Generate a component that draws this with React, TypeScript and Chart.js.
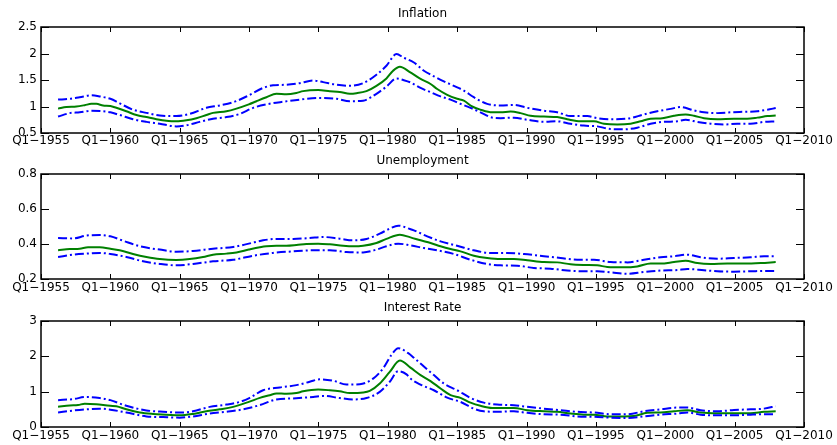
import React, { useEffect, useRef } from "react";
import { Chart, registerables } from "chart.js";

Chart.register(...registerables);

type Pt = [number, number];

// ---------- data ----------
const xTickYears = [1955, 1960, 1965, 1970, 1975, 1980, 1985, 1990, 1995, 2000, 2005, 2010];
const inflationTicks = [0.5, 1, 1.5, 2, 2.5];
const unemploymentTicks = [0.2, 0.4, 0.6, 0.8];
const interestTicks = [0, 1, 2, 3];
const panelTitles = ["Inflation", "Unemployment", "Interest Rate"];

const inflationMedian: Pt[] = [[1956.23,0.96],[1956.83,0.99],[1957.55,1.00],[1958.15,1.025],[1958.63,1.05],[1958.99,1.05],[1959.47,1.02],[1960,1.01],[1960.43,0.975],[1961.15,0.91],[1961.88,0.84],[1962.6,0.80],[1963.32,0.76],[1964.04,0.73],[1964.76,0.72],[1965.48,0.74],[1966.2,0.78],[1966.92,0.84],[1967.4,0.88],[1968.37,0.91],[1969.09,0.96],[1969.98,1.04],[1970.53,1.10],[1971.25,1.175],[1971.97,1.24],[1972.69,1.23],[1973.41,1.255],[1973.89,1.29],[1974.98,1.31],[1975.82,1.29],[1976.54,1.275],[1977.26,1.24],[1977.74,1.25],[1978.46,1.29],[1979.18,1.39],[1979.9,1.53],[1980.38,1.675],[1980.87,1.75],[1981.59,1.65],[1982.36,1.52],[1983.08,1.425],[1983.56,1.33],[1984.28,1.22],[1985,1.145],[1985.48,1.11],[1986.08,1.00],[1986.68,0.94],[1987.52,0.89],[1988.13,0.89],[1988.85,0.905],[1989.57,0.875],[1990.29,0.825],[1991.25,0.81],[1992.21,0.80],[1992.93,0.76],[1993.89,0.72],[1994.86,0.72],[1995.58,0.675],[1996.54,0.66],[1997.5,0.675],[1998.22,0.72],[1998.94,0.77],[1999.66,0.775],[2000.63,0.825],[2001.47,0.85],[2002.07,0.825],[2002.79,0.78],[2003.75,0.76],[2004.95,0.77],[2005.91,0.77],[2006.63,0.79],[2007.36,0.82],[2007.96,0.83]];
const inflationUpper: Pt[] = [[1956.23,1.13],[1957.07,1.145],[1957.79,1.175],[1958.63,1.21],[1959.23,1.19],[1960,1.145],[1960.67,1.06],[1961.63,0.94],[1962.6,0.88],[1963.56,0.83],[1964.76,0.82],[1965.72,0.86],[1966.92,0.975],[1967.88,1.02],[1968.85,1.08],[1969.98,1.21],[1971.01,1.35],[1971.73,1.40],[1972.69,1.41],[1973.65,1.44],[1974.62,1.49],[1975.34,1.46],[1976.3,1.41],[1977.26,1.39],[1978.22,1.44],[1979.18,1.60],[1979.9,1.77],[1980.63,1.99],[1981.11,1.925],[1981.88,1.83],[1982.6,1.675],[1983.32,1.57],[1984.04,1.475],[1984.76,1.39],[1985.48,1.30],[1986.2,1.175],[1987.16,1.05],[1988.13,1.02],[1989.09,1.03],[1990.05,0.975],[1991.25,0.92],[1992.21,0.89],[1993.17,0.82],[1994.38,0.82],[1995.1,0.78],[1996.06,0.76],[1997.26,0.77],[1998.46,0.85],[1999.42,0.91],[2000.38,0.955],[2001.11,0.99],[2002.07,0.925],[2002.79,0.89],[2003.75,0.875],[2004.71,0.89],[2005.67,0.90],[2006.63,0.91],[2007.36,0.94],[2007.96,0.97]];
const inflationLower: Pt[] = [[1956.23,0.81],[1957.07,0.875],[1957.79,0.89],[1958.63,0.92],[1959.47,0.91],[1960,0.89],[1960.67,0.84],[1961.63,0.76],[1962.6,0.71],[1963.56,0.675],[1964.76,0.625],[1965.48,0.645],[1966.44,0.71],[1967.4,0.77],[1968.37,0.80],[1969.33,0.86],[1970.29,0.975],[1971.25,1.04],[1972.45,1.09],[1973.65,1.13],[1974.98,1.16],[1976.3,1.145],[1977.26,1.10],[1978.22,1.11],[1979.18,1.24],[1979.9,1.375],[1980.63,1.53],[1981.11,1.50],[1981.63,1.455],[1982.36,1.35],[1983.08,1.27],[1983.8,1.19],[1984.52,1.13],[1985.24,1.05],[1985.96,0.975],[1986.68,0.89],[1987.4,0.80],[1988.13,0.78],[1989.09,0.79],[1990.05,0.75],[1991.25,0.71],[1992.21,0.72],[1993.17,0.675],[1994.13,0.64],[1995.1,0.625],[1996.06,0.575],[1997.02,0.57],[1997.98,0.60],[1998.94,0.675],[1999.9,0.71],[2000.87,0.72],[2001.47,0.75],[2002.31,0.71],[2003.27,0.675],[2004.23,0.66],[2005.19,0.675],[2006.15,0.675],[2007.12,0.71],[2007.96,0.72]];

const unemploymentMedian: Pt[] = [[1956.23,0.364],[1957.07,0.371],[1957.79,0.373],[1958.39,0.381],[1959.23,0.381],[1960,0.373],[1960.67,0.364],[1961.63,0.343],[1962.6,0.326],[1963.56,0.314],[1964.76,0.309],[1965.72,0.314],[1966.68,0.326],[1967.4,0.339],[1968.37,0.345],[1969.09,0.352],[1969.98,0.368],[1970.77,0.381],[1971.25,0.387],[1971.97,0.39],[1972.69,0.39],[1973.41,0.394],[1974.13,0.40],[1974.98,0.402],[1975.82,0.398],[1976.78,0.39],[1977.5,0.387],[1978.22,0.39],[1979.18,0.406],[1979.9,0.429],[1980.87,0.453],[1981.63,0.438],[1982.36,0.421],[1983.08,0.406],[1983.8,0.387],[1984.52,0.371],[1985.24,0.358],[1986.2,0.333],[1987.16,0.32],[1988.13,0.314],[1989.09,0.314],[1990.05,0.307],[1991.25,0.297],[1992.21,0.295],[1993.17,0.284],[1994.13,0.28],[1995.1,0.278],[1995.82,0.269],[1997.02,0.267],[1997.98,0.272],[1998.94,0.288],[1999.66,0.288],[2000.63,0.297],[2001.47,0.305],[2002.31,0.291],[2003.27,0.286],[2004.47,0.288],[2005.67,0.288],[2006.88,0.291],[2007.96,0.297]];
const unemploymentUpper: Pt[] = [[1956.23,0.434],[1957.31,0.432],[1958.27,0.448],[1959.23,0.451],[1960,0.444],[1960.91,0.419],[1962.12,0.387],[1963.56,0.368],[1964.76,0.356],[1965.96,0.36],[1967.4,0.373],[1968.85,0.383],[1969.98,0.402],[1971.01,0.421],[1971.97,0.429],[1973.17,0.429],[1974.37,0.434],[1975.34,0.44],[1976.54,0.43],[1977.5,0.421],[1978.46,0.429],[1979.42,0.459],[1980.14,0.488],[1980.75,0.505],[1981.59,0.486],[1981.88,0.478],[1982.84,0.444],[1983.8,0.415],[1985,0.39],[1986.2,0.364],[1987.4,0.349],[1988.61,0.349],[1989.81,0.343],[1991.25,0.33],[1992.45,0.32],[1993.65,0.31],[1994.86,0.31],[1996.06,0.297],[1997.26,0.295],[1998.46,0.31],[1999.66,0.324],[2000.63,0.33],[2001.59,0.339],[2002.55,0.324],[2003.75,0.316],[2004.95,0.32],[2006.15,0.324],[2007.12,0.33],[2007.96,0.33]];
const unemploymentLower: Pt[] = [[1956.23,0.326],[1957.31,0.339],[1958.27,0.345],[1959.23,0.349],[1960,0.343],[1961.15,0.326],[1962.36,0.301],[1963.56,0.286],[1964.76,0.278],[1965.96,0.286],[1967.4,0.301],[1968.85,0.31],[1970.29,0.333],[1971.73,0.349],[1973.17,0.358],[1974.62,0.364],[1975.82,0.364],[1977.02,0.354],[1978.22,0.352],[1979.18,0.368],[1979.9,0.387],[1980.75,0.402],[1981.63,0.392],[1982.6,0.377],[1983.56,0.364],[1984.76,0.343],[1985.96,0.31],[1987.16,0.286],[1988.13,0.278],[1989.33,0.276],[1990.53,0.263],[1991.73,0.259],[1992.93,0.248],[1994.13,0.244],[1995.1,0.244],[1996.06,0.238],[1997.26,0.23],[1998.46,0.24],[1999.66,0.248],[2000.87,0.251],[2001.59,0.257],[2002.79,0.25],[2003.75,0.244],[2004.95,0.242],[2006.15,0.244],[2007.12,0.246],[2007.96,0.246]];

const interestMedian: Pt[] = [[1956.23,0.57],[1957.07,0.61],[1957.67,0.62],[1958.15,0.66],[1958.99,0.645],[1960,0.60],[1960.43,0.59],[1961.15,0.50],[1962.12,0.41],[1963.08,0.37],[1964.04,0.35],[1965,0.33],[1965.96,0.37],[1966.92,0.445],[1967.88,0.50],[1968.85,0.57],[1969.98,0.71],[1970.77,0.825],[1971.49,0.90],[1971.97,0.95],[1972.69,0.94],[1973.41,0.96],[1973.89,1.01],[1974.98,1.06],[1975.82,1.04],[1976.54,1.01],[1977.26,0.96],[1978.22,0.975],[1978.7,1.02],[1979.42,1.23],[1980.14,1.56],[1980.87,1.88],[1981.63,1.68],[1982.36,1.47],[1983.08,1.30],[1983.8,1.09],[1984.52,0.90],[1985.24,0.825],[1985.96,0.69],[1986.68,0.60],[1987.52,0.54],[1988.37,0.54],[1989.09,0.54],[1990.05,0.475],[1991.25,0.445],[1992.21,0.43],[1993.17,0.38],[1994.13,0.35],[1994.86,0.35],[1995.82,0.30],[1997.02,0.30],[1997.74,0.31],[1998.7,0.40],[1999.66,0.41],[2000.63,0.445],[2001.59,0.475],[2002.55,0.41],[2003.75,0.39],[2004.95,0.39],[2006.15,0.39],[2007.12,0.43],[2007.96,0.445]];
const interestUpper: Pt[] = [[1956.23,0.76],[1957.31,0.79],[1958.27,0.85],[1959.23,0.82],[1960,0.76],[1961.15,0.60],[1962.6,0.47],[1963.8,0.43],[1965,0.41],[1965.96,0.445],[1967.16,0.57],[1968.37,0.635],[1969.33,0.71],[1970.05,0.825],[1971.01,1.04],[1972.21,1.12],[1973.41,1.185],[1974.37,1.28],[1975.1,1.35],[1976.06,1.31],[1977.02,1.20],[1977.98,1.21],[1978.94,1.37],[1979.66,1.66],[1980.26,2.04],[1980.75,2.23],[1981.47,2.09],[1981.88,1.96],[1982.6,1.71],[1983.32,1.47],[1984.04,1.23],[1985,1.04],[1985.96,0.825],[1986.92,0.69],[1987.88,0.635],[1989.09,0.615],[1990.05,0.57],[1991.25,0.52],[1992.45,0.475],[1993.65,0.43],[1994.86,0.41],[1996.06,0.36],[1997.26,0.36],[1998.46,0.445],[1999.66,0.50],[2000.87,0.55],[2001.59,0.55],[2002.55,0.475],[2003.75,0.445],[2004.95,0.48],[2006.15,0.50],[2007.12,0.52],[2007.96,0.59]];
const interestLower: Pt[] = [[1956.23,0.41],[1957.31,0.465],[1958.27,0.50],[1959.23,0.52],[1960,0.49],[1961.15,0.41],[1962.6,0.30],[1963.8,0.28],[1965,0.265],[1965.96,0.30],[1967.16,0.38],[1968.37,0.43],[1969.57,0.50],[1970.77,0.62],[1971.97,0.78],[1973.17,0.81],[1974.62,0.85],[1975.34,0.88],[1976.54,0.82],[1977.5,0.78],[1978.46,0.82],[1979.42,0.995],[1980.14,1.28],[1980.75,1.58],[1981.35,1.49],[1981.63,1.37],[1982.36,1.20],[1983.32,1.04],[1984.28,0.83],[1985.24,0.71],[1986.2,0.52],[1986.92,0.445],[1987.88,0.43],[1989.09,0.445],[1990.05,0.40],[1991.25,0.36],[1992.45,0.35],[1993.65,0.30],[1994.86,0.29],[1996.06,0.265],[1997.26,0.255],[1998.46,0.30],[1999.66,0.35],[2000.87,0.38],[2001.59,0.41],[2002.55,0.35],[2003.75,0.33],[2004.95,0.33],[2006.15,0.35],[2007.12,0.36],[2007.96,0.36]];

// ---------- presentation ----------
const FONT = '"DejaVu Sans", sans-serif';
const WIDTH = 837;

interface PanelSpec {
  title: string;
  median: Pt[];
  upper: Pt[];
  lower: Pt[];
  yTicks: number[];
  top: number;
  height: number;
  areaTop: number;
  areaBottom: number;
  labelPad: number;
}

const panels: PanelSpec[] = [
  { title: panelTitles[0], median: inflationMedian, upper: inflationUpper, lower: inflationLower, yTicks: inflationTicks, top: 0, height: 148, areaTop: 27, areaBottom: 133, labelPad: 1 },
  { title: panelTitles[1], median: unemploymentMedian, upper: unemploymentUpper, lower: unemploymentLower, yTicks: unemploymentTicks, top: 148, height: 147, areaTop: 26, areaBottom: 131, labelPad: 2 },
  { title: panelTitles[2], median: interestMedian, upper: interestUpper, lower: interestLower, yTicks: interestTicks, top: 295, height: 150, areaTop: 26, areaBottom: 132, labelPad: 2 },
];

const toXY = (a: Pt[]) => a.map(([x, y]) => ({ x, y }));
const fmt = (v: number) => String(Math.round(v * 1000) / 1000);

const boxPlugin = {
  id: "matlabBox",
  afterDatasetsDraw(chart: any, _args: any, opts: any) {
    const { ctx, chartArea: a, scales } = chart;
    const xs = scales.x;
    const ys = scales.y;
    ctx.save();
    ctx.strokeStyle = "#000";
    ctx.lineWidth = 1;
    ctx.beginPath();
    xs.ticks.forEach((t: any) => {
      const px = Math.round(xs.getPixelForValue(t.value)) + 0.5;
      ctx.moveTo(px, a.bottom);
      ctx.lineTo(px, a.bottom - 5);
      ctx.moveTo(px, a.top);
      ctx.lineTo(px, a.top + 5);
    });
    ys.ticks.forEach((t: any) => {
      const py = Math.round(ys.getPixelForValue(t.value)) + 0.5;
      ctx.moveTo(a.left, py);
      ctx.lineTo(a.left + 8, py);
      ctx.moveTo(a.right, py);
      ctx.lineTo(a.right - 8, py);
    });
    ctx.stroke();
    ctx.lineWidth = 1.5;
    ctx.strokeRect(a.left, a.top, a.right - a.left, a.bottom - a.top);
    ctx.fillStyle = "#000";
    ctx.font = `12px ${FONT}`;
    ctx.textAlign = "center";
    ctx.textBaseline = "middle";
    ctx.fillText(opts.title, (a.left + a.right) / 2, a.top - 13);
    ctx.restore();
  },
};

function Panel({ spec }: { spec: PanelSpec }) {
  const ref = useRef<HTMLCanvasElement | null>(null);
  useEffect(() => {
    if (!ref.current) return;
    const band = (data: Pt[]) => ({
      data: toXY(data),
      borderColor: "rgb(0,0,255)",
      borderWidth: 2,
      borderDash: [9, 3, 2, 3],
      pointRadius: 0,
      fill: false,
      cubicInterpolationMode: "monotone" as const,
    });
    const chart = new Chart(ref.current, {
      type: "line",
      data: {
        datasets: [
          band(spec.upper),
          band(spec.lower),
          {
            data: toXY(spec.median),
            borderColor: "rgb(0,128,0)",
            borderWidth: 2,
            pointRadius: 0,
            fill: false,
            cubicInterpolationMode: "monotone" as const,
          },
        ],
      },
      options: {
        animation: false,
        responsive: false,
        devicePixelRatio: 1,
        layout: { padding: { left: 0, right: WIDTH - 804, top: spec.areaTop, bottom: 0 } },
        plugins: {
          legend: { display: false },
          tooltip: { enabled: false },
          matlabBox: { title: spec.title },
        } as any,
        scales: {
          x: {
            type: "linear",
            min: xTickYears[0],
            max: xTickYears[xTickYears.length - 1],
            grid: { display: false, drawTicks: false },
            border: { display: false },
            afterBuildTicks: (s: any) => {
              s.ticks = xTickYears.map((v) => ({ value: v }));
            },
            afterFit: (s: any) => {
              s.height = spec.height - spec.areaBottom;
            },
            ticks: {
              autoSkip: false,
              maxRotation: 0,
              padding: spec.labelPad,
              color: "#000",
              font: { family: FONT, size: 12 },
              callback: (v: any) => "Q1\u2212" + v,
            },
          },
          y: {
            type: "linear",
            min: spec.yTicks[0],
            max: spec.yTicks[spec.yTicks.length - 1],
            grid: { display: false, drawTicks: false },
            border: { display: false },
            afterBuildTicks: (s: any) => {
              s.ticks = spec.yTicks.map((v) => ({ value: v }));
            },
            afterFit: (s: any) => {
              s.width = 41;
            },
            ticks: {
              padding: 4,
              color: "#000",
              font: { family: FONT, size: 12 },
              callback: (v: any) => fmt(Number(v)),
            },
          },
        },
      },
      plugins: [boxPlugin],
    });
    return () => chart.destroy();
  }, [spec]);
  return (
    <canvas
      ref={ref}
      width={WIDTH}
      height={spec.height}
      style={{ position: "absolute", left: 0, top: spec.top, width: WIDTH, height: spec.height, display: "block" }}
    />
  );
}

export default function App() {
  return (
    <div style={{ position: "absolute", left: 0, top: 0, width: WIDTH, height: 445, background: "#fff", overflow: "hidden" }}>
      {panels.map((p) => (
        <Panel key={p.title} spec={p} />
      ))}
    </div>
  );
}
